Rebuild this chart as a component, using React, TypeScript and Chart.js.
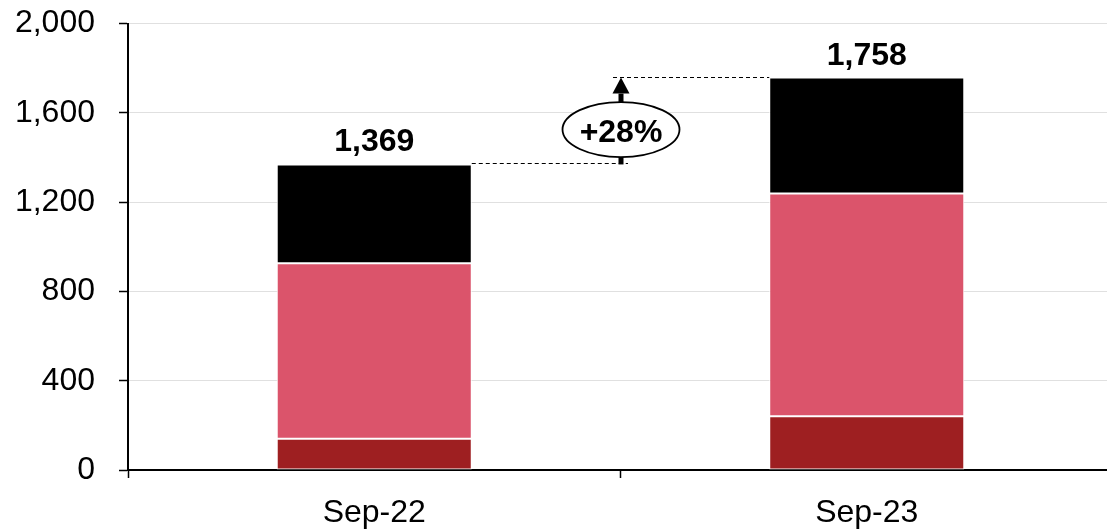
import React, { useEffect, useRef } from "react";
import { Chart, registerables } from "chart.js";

Chart.register(...registerables);

// Categories and stacked segment values (bottom to top)
const categories = ["Sep-22", "Sep-23"];
const segmentBottom = [140, 241];
const segmentMiddle = [786, 998];
const segmentTop = [443, 519];
const yTicks = [0, 400, 800, 1200, 1600, 2000];

const COLORS = {
  bottom: "#9E1F21",
  middle: "#DB546B",
  top: "#000000",
  grid: "#E0E0E0",
};

const FONT = "'Liberation Sans', Arial, sans-serif";
const FONT_SIZE = 32;

const totals = categories.map(
  (_, i) => segmentBottom[i] + segmentMiddle[i] + segmentTop[i]
);

const fmt = (v: number) => v.toLocaleString("en-US");

// Draws the totals above the bars and the growth arrow between them
const annotationPlugin = {
  id: "growthAnnotation",
  afterDatasetsDraw(chart: any) {
    const { ctx, scales } = chart;
    const x = scales.x;
    const y = scales.y;
    const meta = chart.getDatasetMeta(chart.data.datasets.length - 1);
    const bars = meta.data as any[];
    if (bars.length < 2) return;

    ctx.save();
    // totals
    ctx.fillStyle = "#000";
    ctx.font = `bold ${FONT_SIZE}px ${FONT}`;
    ctx.textAlign = "center";
    ctx.textBaseline = "alphabetic";
    bars.forEach((bar, i) => {
      const top = y.getPixelForValue(totals[i]);
      ctx.fillText(fmt(totals[i]), bar.x, top - 13);
    });

    const top1 = y.getPixelForValue(totals[0]);
    const top2 = y.getPixelForValue(totals[1]);
    const midX = Math.round((x.getPixelForValue(0) + x.getPixelForValue(1)) / 2);
    const b1 = bars[0];
    const b2 = bars[1];

    // dashed guides, snapped to whole pixels
    const g1 = Math.round(top1) - 0.5;
    const g2 = Math.round(top2) - 0.5;
    ctx.strokeStyle = "#000";
    ctx.lineWidth = 1;
    ctx.setLineDash([4, 3]);
    ctx.beginPath();
    ctx.moveTo(b1.x + b1.width / 2, g1);
    ctx.lineTo(midX + 7, g1);
    ctx.moveTo(midX - 8, g2);
    ctx.lineTo(b2.x - b2.width / 2, g2);
    ctx.stroke();
    ctx.setLineDash([]);

    // arrow shaft and head
    ctx.fillStyle = "#000";
    const headH = 16;
    ctx.fillRect(midX - 2.5, top2 + headH, 5, top1 - top2 - headH);
    ctx.beginPath();
    ctx.moveTo(midX, top2);
    ctx.lineTo(midX + 8.5, top2 + headH);
    ctx.lineTo(midX - 8.5, top2 + headH);
    ctx.closePath();
    ctx.fill();

    // ellipse with percentage
    const cy = (top1 + top2) / 2 + 8.5;
    ctx.beginPath();
    ctx.ellipse(midX, cy, 58.5, 27.5, 0, 0, Math.PI * 2);
    ctx.fillStyle = "#fff";
    ctx.fill();
    ctx.lineWidth = 1.8;
    ctx.strokeStyle = "#000";
    ctx.stroke();

    const pct = Math.round((totals[1] / totals[0] - 1) * 100);
    ctx.fillStyle = "#000";
    ctx.font = `bold ${FONT_SIZE}px ${FONT}`;
    ctx.textAlign = "center";
    ctx.textBaseline = "alphabetic";
    ctx.fillText(`+${pct}%`, midX, cy + 12);
    ctx.restore();
  },
};

export default function App() {
  const canvasRef = useRef<HTMLCanvasElement | null>(null);

  useEffect(() => {
    if (!canvasRef.current) return;
    const barOpts = {
      borderColor: "#ffffff",
      borderWidth: 1,
      borderSkipped: false as const,
      categoryPercentage: 1,
      barPercentage: 0.396,
    };
    const chart = new Chart(canvasRef.current, {
      type: "bar",
      data: {
        labels: categories,
        datasets: [
          { label: "Bottom", data: segmentBottom, backgroundColor: COLORS.bottom, ...barOpts },
          { label: "Middle", data: segmentMiddle, backgroundColor: COLORS.middle, ...barOpts },
          { label: "Top", data: segmentTop, backgroundColor: COLORS.top, ...barOpts },
        ],
      },
      options: {
        responsive: false,
        animation: false,
        layout: { padding: { top: 23.6, left: 0, right: 0, bottom: 0 } },
        plugins: {
          legend: { display: false },
          tooltip: { enabled: false },
        },
        scales: {
          x: {
            stacked: true,
            offset: true,
            grid: {
              offset: true,
              drawOnChartArea: false,
              drawTicks: true,
              tickLength: 8,
              tickColor: "#000",
              tickWidth: 1.5,
            },
            border: { color: "#000", width: 2 },
            ticks: {
              color: "#000",
              font: { family: FONT, size: FONT_SIZE },
              padding: 16,
              maxRotation: 0,
            },
            afterFit: (scale: any) => {
              scale.height = 59;
            },
          },
          y: {
            stacked: true,
            min: 0,
            max: 2000,
            afterBuildTicks: (scale: any) => {
              scale.ticks = yTicks.map((v) => ({ value: v }));
            },
            grid: {
              color: COLORS.grid,
              lineWidth: 1,
              tickLength: 9,
              tickColor: "#000",
              tickWidth: 1.5,
            },
            border: { color: "#000", width: 2 },
            ticks: {
              color: "#000",
              font: { family: FONT, size: FONT_SIZE },
              padding: 24,
              callback: (v: any) => fmt(Number(v)),
            },
            afterFit: (scale: any) => {
              scale.width = 128;
              scale.paddingTop = 0;
              scale.paddingBottom = 0;
            },
          },
        },
      },
      plugins: [annotationPlugin],
    });
    return () => chart.destroy();
  }, []);

  return (
    <div
      style={{
        position: "absolute",
        left: 0,
        top: 0,
        width: 1107,
        height: 529,
        overflow: "hidden",
        background: "#fff",
      }}
    >
      <canvas ref={canvasRef} width={1113} height={529} style={{ display: "block" }} />
    </div>
  );
}
